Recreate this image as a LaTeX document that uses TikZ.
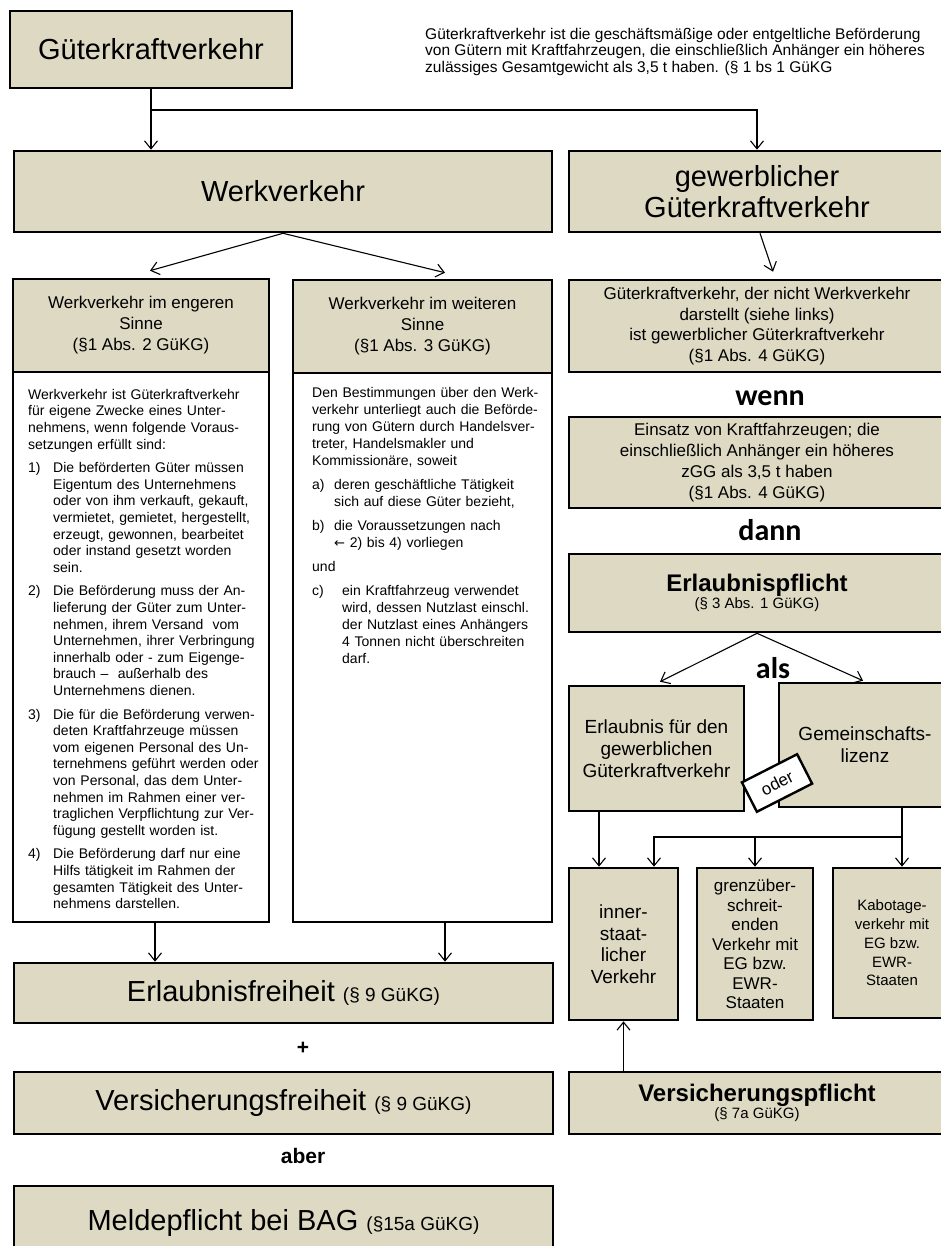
\documentclass[tikz,border=0pt]{standalone}
\usepackage{fontspec}
\setmainfont{Liberation Sans}
\newfontfamily\calib{Carlito}
\newfontfamily\djv{DejaVu Sans}
\usetikzlibrary{arrows.meta}
\definecolor{beige}{RGB}{221,217,195}
\newcommand{\fs}[2]{\fontsize{#1}{#2}\selectfont}
\newcommand{\itm}[3][25pt]{\par\hangindent=#1\hangafter=1\noindent\makebox[#1][l]{#2}{\let\\\newline #3}\par}
\tikzset{
  bx/.style={draw=black, line width=2.6pt, fill=beige, inner sep=0pt, align=center, text=black},
  wbx/.style={draw=black, line width=2.6pt, fill=white, inner sep=0pt},
  arr/.style={-{Straight Barb[length=8pt,width=13pt]}, line width=1.1pt},
  ln/.style={line width=1.1pt},
  kw/.style={font=\calib\bfseries\fs{30}{34}, inner sep=0pt},
  kwa/.style={font=\bfseries\fs{21}{24}, inner sep=0pt},
  bodytxt/.style={anchor=north west, inner sep=0pt, align=left},
}
\begin{document}
\begin{tikzpicture}[x=1pt,y=-1pt]
\useasboundingbox (0,0) rectangle (941,1246);

% title and definition
\node[bx, minimum width=282pt, minimum height=77pt, font=\fs{29}{32}] (title) at (151,49.5) {Güterkraftverkehr};
\node[bodytxt, font=\fs{15.5}{16.5}] (def) at (425,28) {Güterkraftverkehr ist die geschäftsmäßige oder entgeltliche Beförderung\\von Gütern mit Kraftfahrzeugen, die einschließlich Anhänger ein höheres\\zulässiges Gesamtgewicht als 3,5 t haben. (§ 1 bs 1 GüKG};

% second row
\node[bx, minimum width=538pt, minimum height=81pt, font=\fs{29}{32}] (werk) at (283,191.5) {Werkverkehr};
\node[bx, minimum width=376pt, minimum height=81pt, font=\fs{29}{31}] (gew) at (757,191.5) {gewerblicher\\Güterkraftverkehr};

% left column boxes
\node[wbx, minimum width=256pt, minimum height=550pt] (engbody) at (141,647) {};
\node[bx, minimum width=256pt, minimum height=93pt, font=\fs{17}{21}] (enghead) at (141,325.5) {Werkverkehr im engeren\\Sinne\\(§1 Abs. 2 GüKG)};
\node[wbx, minimum width=259pt, minimum height=549pt] (weibody) at (422.5,647.5) {};
\node[bx, minimum width=259pt, minimum height=93pt, font=\fs{17}{21}] (weihead) at (422.5,326.5) {Werkverkehr im weiteren\\Sinne\\(§1 Abs. 3 GüKG)};

\node[bodytxt, text width=240pt, font=\fs{14}{16.6}] (engtxt) at (28,389) {%
Werkverkehr ist Güterkraftverkehr\\für eigene Zwecke eines Unter-\\nehmens, wenn folgende Voraus-\\setzungen erfüllt sind:\par
\setlength{\parskip}{7pt}%
\itm{1)}{Die beförderten Güter müssen\\Eigentum des Unternehmens\\oder von ihm verkauft, gekauft,\\vermietet, gemietet, hergestellt,\\erzeugt, gewonnen, bearbeitet\\oder instand gesetzt worden\\sein.}
\itm{2)}{Die Beförderung muss der An-\\lieferung der Güter zum Unter-\\nehmen, ihrem Versand\ \ vom\\Unternehmen, ihrer Verbringung\\innerhalb oder - zum Eigenge-\\brauch --\ \ außerhalb des\\Unternehmens dienen.}
\itm{3)}{Die für die Beförderung verwen-\\deten Kraftfahrzeuge müssen\\vom eigenen Personal des Un-\\ternehmens geführt werden oder\\von Personal, das dem Unter-\\nehmen im Rahmen einer ver-\\traglichen Verpflichtung zur Ver-\\fügung gestellt worden ist.}
\itm{4)}{Die Beförderung darf nur eine\\Hilfs tätigkeit im Rahmen der\\gesamten Tätigkeit des Unter-\\nehmens darstellen.}};

\node[bodytxt, text width=240pt, font=\fs{14}{17}] (weitxt) at (312,387) {%
Den Bestimmungen über den Werk-\\verkehr unterliegt auch die Beförde-\\rung von Gütern durch Handelsver-\\treter, Handelsmakler und\\Kommissionäre, soweit\par
\setlength{\parskip}{7pt}%
\itm[22pt]{a)}{deren geschäftliche Tätigkeit\\sich auf diese Güter bezieht,}
\itm[22pt]{b)}{die Voraussetzungen nach\\{\djv\fs{13}{17}←} 2) bis 4) vorliegen}
\noindent und\par
\itm[30pt]{c)}{ein Kraftfahrzeug verwendet\\wird, dessen Nutzlast einschl.\\der Nutzlast eines Anhängers\\4 Tonnen nicht überschreiten\\darf.}};

% bottom left
\node[bx, minimum width=539pt, minimum height=60pt] (erf) at (283.5,993) {\fs{29}{32}Erlaubnisfreiheit \fs{19}{22}(§ 9 GüKG)};
\node[kwa] (plus) at (303,1048) {+};
\node[bx, minimum width=539pt, minimum height=62pt] (vf) at (283.5,1103) {\fs{29}{32}Versicherungsfreiheit \fs{19}{22}(§ 9 GüKG)};
\node[kwa] (aber) at (303,1156) {aber};
\node[bx, minimum width=539pt, minimum height=74pt] (mp) at (283.5,1223) {\fs{29}{32}Meldepflicht bei BAG \fs{19}{22}(§15a GüKG)};

% right column
\node[bx, minimum width=376pt, minimum height=92pt, font=\fs{17}{20.7}] (gnw) at (757,326) {Güterkraftverkehr, der nicht Werkverkehr\\darstellt (siehe links)\\ist gewerblicher Güterkraftverkehr\\(§1 Abs. 4 GüKG)};
\node[kw] (wenn) at (770,398) {wenn};
\node[bx, minimum width=376pt, minimum height=91pt, font=\fs{17}{21}] (einsatz) at (757,462.5) {Einsatz von Kraftfahrzeugen; die\\einschließlich Anhänger ein höheres\\zGG als 3,5 t haben\\(§1 Abs. 4 GüKG)};
\node[kw] (dann) at (770,530) {dann};
\node[bx, minimum width=376pt, minimum height=78pt] (erlp) at (757,593) {\fs{24}{26}\bfseries Erlaubnispflicht\\\fs{15}{20}\mdseries(§ 3 Abs. 1 GüKG)};
\node[kw] (als) at (773,668) {als};
\node[bx, minimum width=175pt, minimum height=125pt, font=\fs{19}{22}] (erl) at (656.5,748.5) {Erlaubnis für den\\gewerblichen\\Güterkraftverkehr};
\node[bx, minimum width=172pt, minimum height=124pt, font=\fs{19}{22}] (gem) at (865,745) {Gemeinschafts-\\lizenz};
\node[bx, minimum width=109pt, minimum height=152pt, font=\fs{19}{21.5}] (inner) at (623.5,944) {inner-\\staat-\\licher\\Verkehr};
\node[bx, minimum width=116pt, minimum height=152pt, font=\fs{17}{19.5}] (grenz) at (755,944) {grenzüber-\\schreit-\\enden\\Verkehr mit\\EG bzw.\\EWR-\\Staaten};
\node[bx, minimum width=118pt, minimum height=150pt, font=\fs{15}{18.75}] (kab) at (892,943) {Kabotage-\\verkehr mit\\EG bzw.\\EWR-\\Staaten};
\node[bx, minimum width=376pt, minimum height=62pt] (vpf) at (757,1103) {\fs{24}{26}\bfseries Versicherungspflicht\\\fs{15}{21}\mdseries(§ 7a GüKG)};

\node[draw=black, fill=white, line width=2.4pt, rotate=27, minimum width=62pt, minimum height=33pt, inner sep=0pt, font=\fs{17}{20}] (oder) at (777,783) {oder};

% connectors
\coordinate (j1) at (151,110);
\draw[arr] (title.south) -- (title.south |- werk.north);
\draw[arr] (j1) -| (gew.north);
\draw[arr] (werk.south) -- ([xshift=9pt,yshift=7pt]enghead.north);
\draw[arr] (werk.south) -- ([xshift=22.5pt,yshift=6pt]weihead.north);
\draw[arr] ([xshift=3pt]gew.south) -- ([xshift=16pt,yshift=7pt]gnw.north);
\draw[arr] ([xshift=14pt]engbody.south) -- ([xshift=14pt]engbody.south |- erf.north);
\draw[arr] ([xshift=22.5pt]weibody.south) -- ([xshift=22.5pt]weibody.south |- erf.north);
\draw[arr] (erlp.south) -- ([xshift=3.5pt,yshift=3pt]erl.north);
\draw[arr] (erlp.south) -- ([xshift=-2pt,yshift=1pt]gem.north);
\draw[arr] ([xshift=-57.5pt]erl.south) -- ([xshift=-57.5pt]erl.south |- inner.north);
\coordinate (j2) at (902,837);
\draw[arr] ([xshift=37pt]gem.south) -- ([xshift=37pt]gem.south |- kab.north);
\draw[arr] (j2) -| ([xshift=30.5pt]inner.north);
\draw[arr] (j2 -| grenz.north) -- (grenz.north);
\draw[arr] (inner.south |- vpf.north) -- (inner.south);
\end{tikzpicture}
\end{document}
